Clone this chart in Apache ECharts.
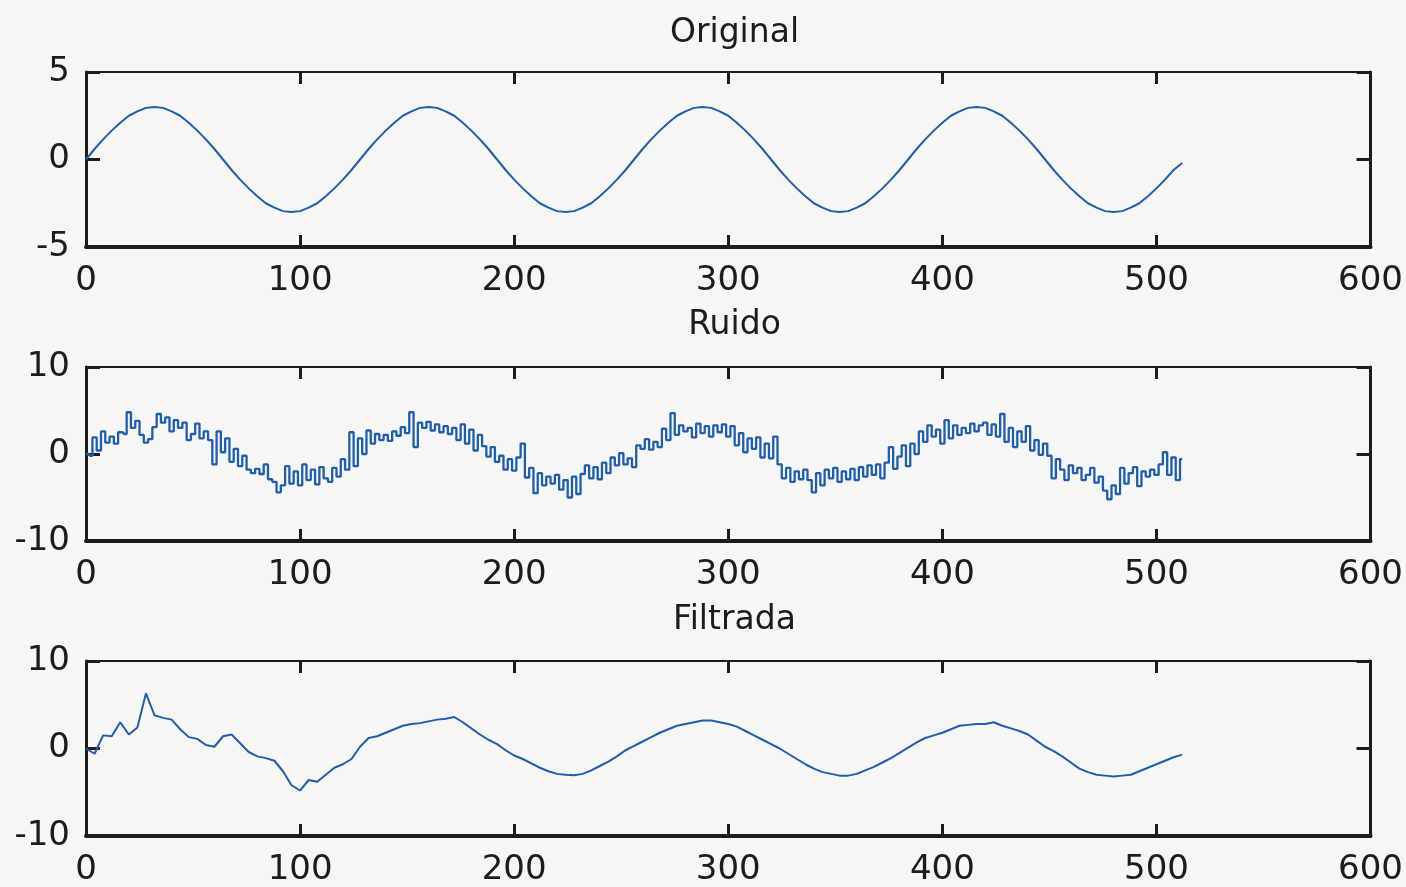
<!DOCTYPE html>
<html>
<head>
<meta charset="utf-8">
<title>Original / Ruido / Filtrada</title>
<script src="https://cdn.jsdelivr.net/npm/echarts@6/dist/echarts.min.js"></script>
<style>
  html, body { margin: 0; padding: 0; background: #f6f6f4; }
  #chart { width: 1406px; height: 887px; }
</style>
</head>
<body>
<div id="chart"></div>
<script>
// x ticks and sample spacing of each series
const xTicks = [0, 100, 200, 300, 400, 500, 600];
const originalStep = 4;
const ruidoStep = 2;
const filtradaStep = 4;

// Original (read every 4 samples)
const originalY = [
  0, 0.6, 1.15, 1.65, 2.1, 2.5, 2.75, 2.95, 3, 2.95, 2.75, 2.5, 2.1, 1.65, 1.15, 0.6,
  0, -0.6, -1.15, -1.65, -2.1, -2.5, -2.75, -2.95, -3, -2.95, -2.75, -2.5, -2.1, -1.65, -1.15, -0.6,
  0, 0.6, 1.15, 1.65, 2.1, 2.5, 2.75, 2.95, 3, 2.95, 2.75, 2.5, 2.1, 1.65, 1.15, 0.6,
  0, -0.6, -1.15, -1.65, -2.1, -2.5, -2.75, -2.95, -3, -2.95, -2.75, -2.5, -2.1, -1.65, -1.15, -0.6,
  0, 0.6, 1.15, 1.65, 2.1, 2.5, 2.75, 2.95, 3, 2.95, 2.75, 2.5, 2.1, 1.65, 1.15, 0.6,
  0, -0.6, -1.15, -1.65, -2.1, -2.5, -2.75, -2.95, -3, -2.95, -2.75, -2.5, -2.1, -1.65, -1.15, -0.6,
  0, 0.6, 1.15, 1.65, 2.1, 2.5, 2.75, 2.95, 3, 2.95, 2.75, 2.5, 2.1, 1.65, 1.15, 0.6,
  0, -0.6, -1.15, -1.65, -2.1, -2.5, -2.75, -2.95, -3, -2.95, -2.75, -2.5, -2.1, -1.65, -1.15, -0.6,
  -0.2
];

// Ruido (read every 2 samples)
const ruidoY = [
  0.0, -0.2, 1.9, 0.4, 2.6, 1.3, 2.0, 1.2, 2.5, 2.3,
  4.8, 3.0, 3.8, 2.2, 1.3, 1.7, 3.1, 4.6, 3.6, 4.2,
  2.6, 3.9, 3.0, 3.6, 1.6, 2.3, 3.5, 1.8, 2.6, 1.6,
  -1.2, 2.6, 0.2, 1.8, -0.9, 0.6, -1.4, -0.2, -1.8, -2.2,
  -1.7, -2.3, -1.2, -2.9, -3.2, -4.4, -3.6, -1.4, -3.4, -2.0,
  -3.6, -1.2, -3.0, -1.8, -3.5, -1.5, -2.8, -3.2, -1.6, -2.6,
  -0.6, -1.8, 2.5, -1.4, 1.8, 0.0, 2.7, 1.2, 2.3, 1.6,
  2.2, 1.5, 2.6, 2.1, 3.1, 2.4, 4.8, 0.8, 3.6, 3.0,
  3.7, 2.7, 3.4, 2.5, 3.2, 2.3, 3.0, 1.6, 3.4, 1.2,
  2.8, 0.4, 2.2, 0.9, -0.3, 0.8, -0.9, -0.2, -1.8, -0.6,
  -1.9, -0.4, 1.2, -2.7, -1.6, -4.5, -2.2, -3.6, -2.6, -3.4,
  -2.4, -4.1, -3.0, -5.0, -2.6, -4.6, -2.3, -1.3, -2.8, -1.5,
  -2.9, -1.0, -2.2, -0.4, -1.3, 0.1, -1.2, -0.5, -1.5, 1.0,
  0.6, 1.7, 0.5, 1.4, 0.8, 2.9, 1.6, 4.7, 2.2, 3.3,
  2.6, 3.0, 1.9, 3.5, 2.4, 3.2, 2.0, 3.3, 2.5, 3.4,
  2.0, 3.2, 1.0, 2.4, 0.2, 1.8, 0.6, 1.9, -0.4, 1.2,
  -0.5, 2.0, -1.2, -2.8, -1.6, -3.2, -2.0, -2.9, -1.8, -3.0,
  -4.4, -2.2, -3.6, -1.8, -2.8, -1.6, -3.2, -2.0, -2.9, -1.7,
  -3.0, -1.5, -2.6, -1.3, -2.4, -1.2, -2.8, -1.0, 0.8, -1.7,
  -0.3, 1.0, -1.4, 1.2, 0.0, 2.6, 1.4, 3.3, 2.0, 2.8,
  1.2, 3.9, 1.8, 3.3, 2.2, 3.0, 2.4, 3.5, 2.6, 3.3,
  3.6, 2.2, 3.4, 2.0, 4.6, 1.4, 3.0, 0.8, 2.6, 1.4,
  3.2, 0.4, 1.6, -0.1, 1.2, -0.2, -2.8, -0.6, -1.8, -3.0,
  -1.3, -2.2, -1.6, -3.0, -2.4, -1.6, -3.3, -2.6, -4.2, -5.2,
  -3.6, -4.6, -1.6, -3.4, -2.2, -1.5, -3.7, -2.0, -2.6, -1.8,
  -2.4, -1.2, 0.2, -2.4, -0.4, -3.0, -0.6
];

// Filtrada (read every 4 samples)
const filtradaY = [
  0.0, -0.6, 1.5, 1.4, 3.0, 1.6, 2.4, 6.3, 3.8, 3.5,
  3.3, 2.2, 1.3, 1.1, 0.4, 0.2, 1.4, 1.6, 0.6, -0.4,
  -0.9, -1.1, -1.4, -2.6, -4.2, -4.8, -3.6, -3.8, -3.0, -2.2,
  -1.8, -1.2, 0.2, 1.2, 1.4, 1.8, 2.2, 2.6, 2.8, 2.9,
  3.1, 3.3, 3.4, 3.6, 3.0, 2.3, 1.6, 1.0, 0.5, -0.2,
  -0.8, -1.2, -1.7, -2.2, -2.6, -2.9, -3.0, -3.05, -2.9, -2.5,
  -2.0, -1.5, -0.9, -0.2, 0.3, 0.8, 1.3, 1.8, 2.2, 2.6,
  2.8, 3.0, 3.2, 3.2, 3.0, 2.8, 2.5, 2.0, 1.5, 1.0,
  0.5, 0.0, -0.6, -1.2, -1.8, -2.3, -2.7, -2.9, -3.1, -3.1,
  -2.9, -2.5, -2.1, -1.6, -1.1, -0.5, 0.1, 0.7, 1.2, 1.5,
  1.8, 2.2, 2.6, 2.7, 2.8, 2.8, 3.0, 2.6, 2.3, 2.0,
  1.6, 0.9, 0.2, -0.3, -0.9, -1.6, -2.3, -2.7, -3.0, -3.1,
  -3.2, -3.1, -3.0, -2.6, -2.2, -1.8, -1.4, -1.0, -0.7
];

const lineColor = '#1f5eae';
const inkColor = '#1c1c1c';
const fontFamily = 'DejaVu Sans';

const panels = [
  { title: 'Original', titleTop: 12, top: 72, height: 175, yTicks: [-5, 0, 5], values: originalY, step: originalStep, stepLine: false, width: 2 },
  { title: 'Ruido', titleTop: 304, top: 367, height: 174, yTicks: [-10, 0, 10], values: ruidoY, step: ruidoStep, stepLine: 'middle', width: 2.3 },
  { title: 'Filtrada', titleTop: 599, top: 661, height: 175, yTicks: [-10, 0, 10], values: filtradaY, step: filtradaStep, stepLine: false, width: 2 }
];

const gridLeft = 86;
const gridWidth = 1287;

const grid = [];
const xAxis = [];
const yAxis = [];
const series = [];
const title = [];

panels.forEach(function (p, i) {
  grid.push({ left: gridLeft, top: p.top, width: gridWidth, height: p.height });
  title.push({
    text: p.title,
    left: gridLeft + gridWidth / 2,
    top: p.titleTop,
    textAlign: 'center',
    textStyle: { fontFamily: fontFamily, fontSize: 33, fontWeight: 'normal', color: inkColor }
  });

  const yMin = p.yTicks[0];
  const yMax = p.yTicks[p.yTicks.length - 1];
  const yInterval = p.yTicks[1] - p.yTicks[0];

  // bottom axis with labels
  xAxis.push({
    type: 'value', gridIndex: i, position: 'bottom',
    min: xTicks[0], max: xTicks[xTicks.length - 1], interval: xTicks[1] - xTicks[0],
    axisLine: { onZero: false, lineStyle: { color: inkColor, width: 4 } },
    axisTick: { inside: true, length: 12, lineStyle: { color: inkColor, width: 3 } },
    axisLabel: { margin: 17, fontFamily: fontFamily, fontSize: 34, color: inkColor },
    splitLine: { show: false }
  });
  // top axis, ticks only
  xAxis.push({
    type: 'value', gridIndex: i, position: 'top',
    min: xTicks[0], max: xTicks[xTicks.length - 1], interval: xTicks[1] - xTicks[0],
    axisLine: { onZero: false, lineStyle: { color: inkColor, width: 2 } },
    axisTick: { inside: true, length: 12, lineStyle: { color: inkColor, width: 3 } },
    axisLabel: { show: false },
    splitLine: { show: false }
  });
  // left axis with labels
  yAxis.push({
    type: 'value', gridIndex: i, position: 'left',
    min: yMin, max: yMax, interval: yInterval,
    axisLine: { show: true, onZero: false, lineStyle: { color: inkColor, width: 3 } },
    axisTick: { show: true, inside: true, length: 14, lineStyle: { color: inkColor, width: 3 } },
    axisLabel: { margin: 16, fontFamily: fontFamily, fontSize: 34, color: inkColor },
    splitLine: { show: false }
  });
  // right axis, ticks only
  yAxis.push({
    type: 'value', gridIndex: i, position: 'right',
    min: yMin, max: yMax, interval: yInterval,
    axisLine: { show: true, onZero: false, lineStyle: { color: inkColor, width: 3 } },
    axisTick: { show: true, inside: true, length: 14, lineStyle: { color: inkColor, width: 3 } },
    axisLabel: { show: false },
    splitLine: { show: false }
  });

  series.push({
    type: 'line',
    name: p.title,
    xAxisIndex: i * 2,
    yAxisIndex: i * 2,
    data: p.values.map(function (v, k) { return [k * p.step, v]; }),
    showSymbol: false,
    step: p.stepLine,
    lineStyle: { color: lineColor, width: p.width },
    itemStyle: { color: lineColor },
    silent: true
  });
});

const myChart = echarts.init(document.getElementById('chart'));
myChart.setOption({
  backgroundColor: '#f6f6f4',
  animation: false,
  title: title,
  grid: grid,
  xAxis: xAxis,
  yAxis: yAxis,
  series: series
});
</script>
</body>
</html>
